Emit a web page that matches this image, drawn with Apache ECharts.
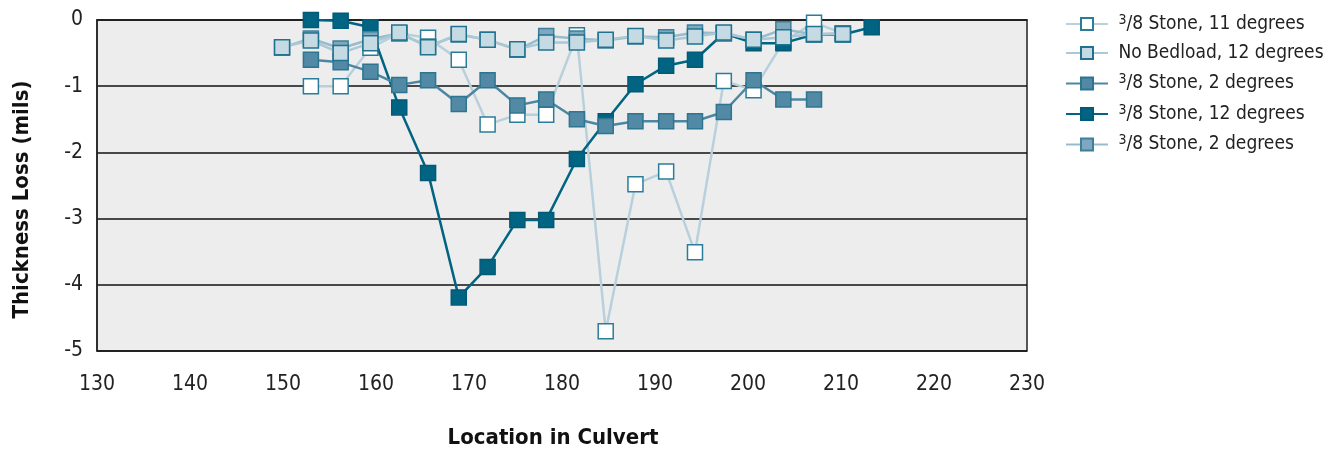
<!DOCTYPE html>
<html>
<head>
<meta charset="utf-8">
<script src="https://cdn.jsdelivr.net/npm/echarts@6/dist/echarts.min.js"></script>
<style>
  html, body { margin: 0; padding: 0; background: #fff; }
</style>
</head>
<body>
<div id="chart" style="width: 1338px; height: 454px;"></div>
<script>
// location in culvert for each measuring station
const locations = [149.9, 153.0, 156.2, 159.4, 162.5, 165.6, 168.9, 172.0, 175.2, 178.3, 181.6,
  184.7, 187.9, 191.2, 194.3, 197.4, 200.6, 203.8, 207.1, 210.2, 213.3];

// thickness loss (mils), null = no reading
const stone11 = [null, -1.0, -1.0, -0.42, -0.2, -0.27, -0.6, -1.58, -1.43, -1.43, -0.23,
  -4.7, -2.48, -2.29, -3.51, -0.92, -1.06, -0.33, -0.04, -0.2, null];
const noBedload12 = [-0.41, -0.31, -0.5, -0.35, -0.19, -0.41, -0.21, -0.3, -0.44, -0.34, -0.34,
  -0.3, -0.24, -0.31, -0.25, -0.19, -0.3, -0.26, -0.21, -0.21, null];
const stone2a = [null, -0.6, -0.64, -0.78, -0.98, -0.91, -1.27, -0.91, -1.29, -1.2, -1.5,
  -1.6, -1.53, -1.53, -1.53, -1.39, -0.91, -1.2, -1.2, null, null];
const stone12 = [null, 0.0, -0.01, -0.11, -1.32, -2.31, -4.19, -3.73, -3.02, -3.02, -2.1,
  -1.53, -0.97, -0.69, -0.6, -0.2, -0.35, -0.35, -0.22, -0.22, -0.11];
const stone2b = [-0.42, -0.28, -0.43, -0.29, -0.2, -0.4, -0.22, -0.3, -0.45, -0.24, -0.28,
  -0.31, -0.25, -0.26, -0.19, -0.2, -0.3, -0.14, -0.22, -0.2, null];

const seriesNames = ['{s|3}/8 Stone, 11 degrees', 'No Bedload, 12 degrees', '{s|3}/8 Stone, 2 degrees',
  '{s|3}/8 Stone, 12 degrees', '{s|3}/8 Stone, 2 degrees '];
const yTicks = [0, -1, -2, -3, -4, -5];

const FONT = "'Liberation Sans Narrow', 'DejaVu Sans Condensed', 'Roboto', sans-serif";

function pairs(vals) {
  const out = [];
  vals.forEach((v, i) => {
    if (v !== null) out.push([locations[i], v]);
  });
  return out;
}

function makeSeries(name, vals, lineColor, fill, border, z) {
  return {
    name: name,
    type: 'line',
    data: pairs(vals),
    z: z,
    symbol: 'rect',
    symbolSize: 15,
    showAllSymbol: true,
    lineStyle: { color: lineColor, width: 2.5 },
    itemStyle: { color: fill, borderColor: border, borderWidth: 1.5 },
    emphasis: { disabled: true },
    animation: false
  };
}

const chart = echarts.init(document.getElementById('chart'));
const option = {
  animation: false,
  grid: {
    left: 97, right: 311, top: 20, bottom: 97,
    show: true,
    backgroundColor: '#ededed',
    borderColor: '#222',
    borderWidth: 1.5
  },
  legend: {
    orient: 'vertical',
    left: 1060,
    top: 8,
    itemWidth: 42,
    itemHeight: 15,
    itemGap: 10,
    data: seriesNames,
    formatter: (n) => ' ' + n.trim(),
    textStyle: {
      fontFamily: FONT,
      fontSize: 19,
      color: '#222',
      rich: {
        s: { fontFamily: FONT, fontSize: 14, verticalAlign: 'top', padding: [0, 0, 8, 0], color: '#222' }
      }
    }
  },
  xAxis: {
    type: 'value',
    min: 130,
    max: 230,
    interval: 10,
    name: 'Location in Culvert',
    nameLocation: 'middle',
    nameGap: 76,
    nameTextStyle: { fontFamily: FONT, fontSize: 22, fontWeight: 'bold', color: '#111', padding: [0, 18, 0, 0] },
    axisLine: { show: true, lineStyle: { color: '#222', width: 1.5 } },
    axisTick: { show: false },
    splitLine: { show: false },
    axisLabel: { margin: 23, fontFamily: FONT, fontSize: 21, color: '#222' }
  },
  yAxis: {
    type: 'value',
    min: -5,
    max: 0,
    interval: 1,
    name: 'Thickness Loss (mils)',
    nameLocation: 'middle',
    nameGap: 64,
    nameTextStyle: { fontFamily: FONT, fontSize: 22, fontWeight: 'bold', color: '#111', padding: [0, 28, 0, 0] },
    axisLine: { show: true, lineStyle: { color: '#222', width: 1.5 } },
    axisTick: { show: false },
    splitLine: { show: true, lineStyle: { color: '#111', width: 1.5 } },
    axisLabel: {
      margin: 14, fontFamily: FONT, fontSize: 21, color: '#222',
      formatter: (v) => (yTicks.indexOf(v) >= 0 ? String(v) : '')
    }
  },
  series: [
    makeSeries(seriesNames[0], stone11, '#b7d0dc', '#ffffff', '#2a7d99', 2),
    makeSeries(seriesNames[3], stone12, '#006482', '#006482', '#005a78', 3),
    makeSeries(seriesNames[2], stone2a, '#4b86a2', '#5289a4', '#2d7591', 4),
    makeSeries(seriesNames[4], stone2b, '#98bccd', '#7fa8be', '#3d7f9c', 5),
    makeSeries(seriesNames[1], noBedload12, '#aac8d6', '#c6dae3', '#1f7390', 6)
  ]
};
chart.setOption(option);
</script>
</body>
</html>
